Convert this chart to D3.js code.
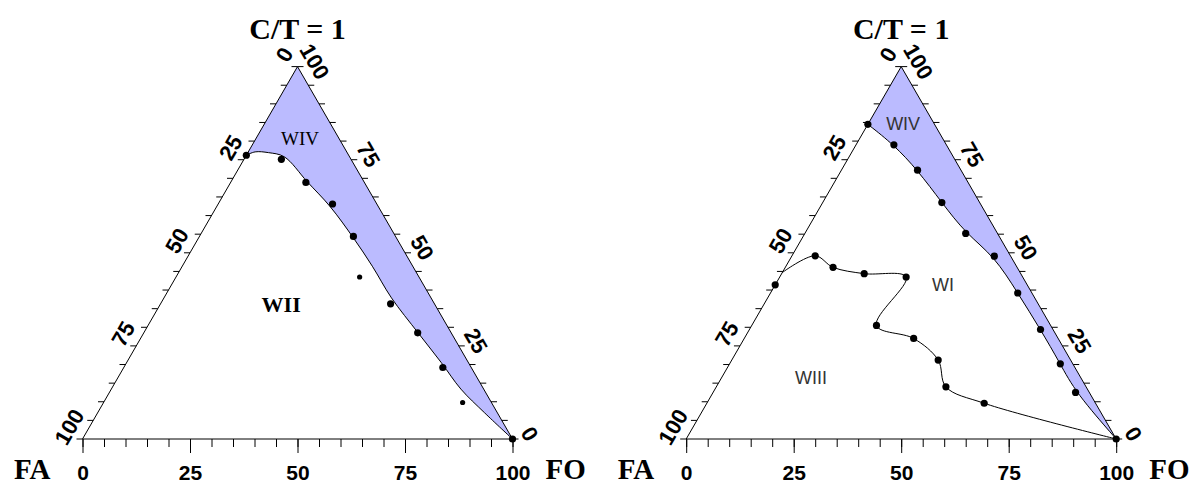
<!DOCTYPE html>
<html>
<head>
<meta charset="utf-8">
<script src="https://cdn.jsdelivr.net/npm/d3@7"></script>
<style>
body { margin: 0; background: #fff; }
</style>
</head>
<body>
<script>
// axis labels (percent)
var majorTicks = [0, 25, 50, 75, 100];
var minorTicks = d3.range(0, 101, 5);

// points are [FO, C/T] in percent, FA = 100 - FO - C/T
var leftDots = [[0, 76.2], [8.7, 75.1], [17.5, 68.9], [26.6, 63.1], [35.8, 54.4], [42.7, 43.5],
  [53.5, 36.3], [63.7, 28.5], [74.2, 19.2], [83.5, 9.8], [100, 0]];
var leftBinodal = [[0, 76.2], [1.6, 77.1], [4.8, 76.9], [9.0, 75.8], [17.7, 69.1], [26.4, 62.4],
  [36.0, 54.0], [44.2, 46.4], [52.9, 37.9], [63.8, 28.5], [73.2, 20.5], [81.3, 13.4], [89.9, 7.1], [100, 0]];

var rightDots = [[0, 84.5], [8.8, 79.0], [17.7, 72.2], [27.7, 63.5], [37.4, 55.2], [47.1, 49.1],
  [57.5, 39.2], [67.7, 29.4], [76.9, 20.2], [84.3, 12.5], [100, 0]];
var rightWiDots = [[0, 41.4], [5.4, 49.2], [11.1, 46.1], [19.2, 44.4], [29.4, 43.5], [29.0, 30.5],
  [39.4, 27.0], [48.0, 21.2], [53.4, 14.0], [64.5, 9.6]];
var rightWiCurve = [[0, 44.7], [5.4, 49.2], [11.1, 46.1], [19.2, 44.4], [29.4, 43.5], [29.0, 30.5],
  [39.4, 27.0], [48.0, 21.2], [53.4, 14.0], [64.5, 9.6], [100, 0]];

var svg = d3.select('body').append('svg')
  .attr('width', 1193)
  .attr('height', 486);

var serif = '"Liberation Serif", "Times New Roman", serif';
var sans = '"Liberation Sans", Arial, sans-serif';

function ternary(p) {
  var side = 430, h = side * Math.sqrt(3) / 2;
  var x = d3.scaleLinear().domain([0, 100]).range([p.left, p.left + side]);
  var y = d3.scaleLinear().domain([0, 100]).range([p.base, p.base - h]);
  var px = function(d) { return x(d[0] + d[1] / 2); };
  var py = function(d) { return y(d[1]); };

  var g = svg.append('g');
  var A = [0, 0], B = [100, 0], C = [0, 100];

  var smooth = d3.line().x(px).y(py).curve(d3.curveCatmullRom.alpha(0.5));
  var binodalLine = d3.line().x(px).y(py).curve(p.binodalCurve || d3.curveCatmullRom.alpha(0.5));
  var straight = d3.line().x(px).y(py);

  // shaded WIV region: binodal curve, then back up the right edge to the apex
  g.append('path')
    .attr('d', binodalLine(p.binodal) + 'L' + px(C) + ',' + py(C) + 'Z')
    .attr('fill', '#bbbbff')
    .attr('stroke', 'none');

  g.append('path')
    .attr('d', binodalLine(p.binodal))
    .attr('fill', 'none')
    .attr('stroke', '#000')
    .attr('stroke-width', 1);

  if (p.curve2) {
    g.append('path')
      .attr('d', smooth(p.curve2))
      .attr('fill', 'none')
      .attr('stroke', '#000')
      .attr('stroke-width', 1);
  }

  // triangle
  g.append('path')
    .attr('d', straight([A, B, C]) + 'Z')
    .attr('fill', 'none')
    .attr('stroke', '#000')
    .attr('stroke-width', 1);

  // bottom axis (FO)
  var minor = g.append('g')
    .attr('transform', 'translate(0,' + p.base + ')')
    .call(d3.axisBottom(x).tickValues(minorTicks).tickSize(8).tickFormat(''));
  minor.select('.domain').remove();
  var major = g.append('g')
    .attr('transform', 'translate(0,' + p.base + ')')
    .call(d3.axisBottom(x).tickValues(majorTicks).tickSize(14).tickPadding(12));
  major.select('.domain').remove();
  major.selectAll('line').attr('stroke', '#000');
  major.selectAll('text')
    .attr('font-family', sans)
    .attr('font-weight', 'bold')
    .attr('font-size', 21)
    .attr('fill', '#000');

  // left edge (FA): 0 at apex, 100 at FA corner
  g.selectAll('.lt').data(minorTicks).enter().append('line')
    .attr('x1', function(v) { return px([0, 100 - v]); })
    .attr('x2', function(v) { return px([0, 100 - v]) - 6; })
    .attr('y1', function(v) { return py([0, 100 - v]); })
    .attr('y2', function(v) { return py([0, 100 - v]); })
    .attr('stroke', '#000');
  g.selectAll('.ll').data(majorTicks).enter().append('text')
    .attr('transform', function(v) {
      return 'translate(' + (px([0, 100 - v]) - 13) + ',' + (py([0, 100 - v]) - 12) + ') rotate(-60)';
    })
    .attr('text-anchor', 'middle')
    .attr('dominant-baseline', 'central')
    .attr('font-family', sans).attr('font-weight', 'bold').attr('font-size', 22)
    .text(function(v) { return v; });

  // right edge (C/T): 0 at FO corner, 100 at apex
  g.selectAll('.rt').data(minorTicks).enter().append('line')
    .attr('x1', function(v) { return px([100 - v, v]); })
    .attr('x2', function(v) { return px([100 - v, v]) + 6; })
    .attr('y1', function(v) { return py([100 - v, v]); })
    .attr('y2', function(v) { return py([100 - v, v]); })
    .attr('stroke', '#000');
  g.selectAll('.rl').data(majorTicks).enter().append('text')
    .attr('transform', function(v) {
      return 'translate(' + (px([100 - v, v]) + 17) + ',' + (py([100 - v, v]) - 5) + ') rotate(60)';
    })
    .attr('text-anchor', 'middle')
    .attr('dominant-baseline', 'central')
    .attr('font-family', sans).attr('font-weight', 'bold').attr('font-size', 22)
    .text(function(v) { return v; });

  // data points
  var dots = p.dots.concat(p.dots2 || []);
  g.selectAll('.dot').data(dots).enter().append('circle')
    .attr('cx', px)
    .attr('cy', py)
    .attr('r', function(d, i) { return (p.small || []).indexOf(i) >= 0 ? 2.6 : 3.6; })
    .attr('fill', '#000');

  // vertex names and title
  g.append('text')
    .attr('x', px(C)).attr('y', 39)
    .attr('text-anchor', 'middle')
    .attr('font-family', serif).attr('font-weight', 'bold').attr('font-size', 30)
    .text('C/T = 1');
  g.append('text')
    .attr('x', px(A) - 32).attr('y', 479)
    .attr('text-anchor', 'end')
    .attr('font-family', serif).attr('font-weight', 'bold').attr('font-size', 29)
    .text('FA');
  g.append('text')
    .attr('x', px(B) + 33).attr('y', 479)
    .attr('text-anchor', 'start')
    .attr('font-family', serif).attr('font-weight', 'bold').attr('font-size', 29)
    .text('FO');

  // region names
  p.regions.forEach(function(r) {
    g.append('text')
      .attr('x', px(r.at)).attr('y', py(r.at))
      .attr('text-anchor', 'middle')
      .attr('dominant-baseline', 'central')
      .attr('font-family', r.font)
      .attr('font-weight', r.weight || 'normal')
      .attr('font-size', r.size)
      .attr('fill', r.color || '#000')
      .text(r.name);
  });
}

ternary({
  left: 82.5, base: 439,
  binodal: leftBinodal,
  dots: leftDots,
  small: [5, 9],
  regions: [
    {name: 'WIV', at: [10.3, 80.6], font: serif, size: 19},
    {name: 'WII', at: [28.2, 36.0], font: serif, weight: 'bold', size: 22}
  ]
});

ternary({
  left: 686.2, base: 439,
  binodal: rightDots,
  binodalCurve: d3.curveBasis,
  curve2: rightWiCurve,
  dots: rightDots,
  dots2: rightWiDots,
  regions: [
    {name: 'WIV', at: [8.1, 84.7], font: sans, size: 18, color: '#333'},
    {name: 'WI', at: [39.0, 41.4], font: sans, size: 18, color: '#333'},
    {name: 'WIII', at: [20.8, 16.4], font: sans, size: 18, color: '#333'}
  ]
});
</script>
</body>
</html>
